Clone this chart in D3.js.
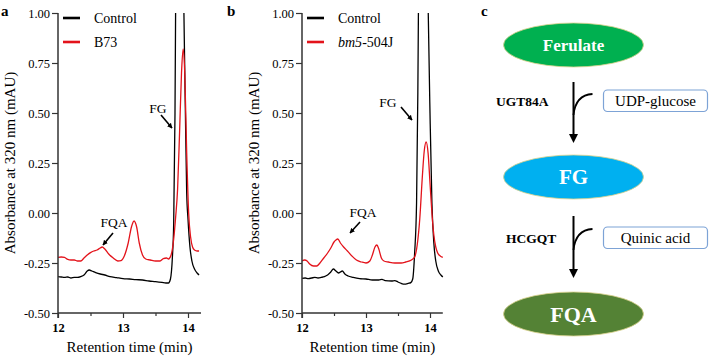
<!DOCTYPE html>
<html><head><meta charset="utf-8">
<script src="https://cdn.jsdelivr.net/npm/d3@7"></script>
<style>
html,body{margin:0;padding:0;background:#fff;}
svg{display:block;}
svg text{font-family:"Liberation Serif","DejaVu Serif",serif !important;}
</style></head>
<body>
<svg id="chart" width="709" height="358"></svg>
<script>
// ---------- data ----------
const yTickValues = [-0.5, -0.25, 0, 0.25, 0.5, 0.75, 1.0];
const yTickLabels = ["-0.50", "-0.25", "0.00", "0.25", "0.50", "0.75", "1.00"];
const xMajorTicks = [12, 13, 14];
const xMinorTicks = [12.5, 13.5];

// Panel a: Control (black)
const timeA_control = [12.00,12.05,12.10,12.15,12.20,12.25,12.30,12.35,12.40,12.45,12.48,12.52,12.58,12.65,12.72,12.80,12.90,13.00,13.10,13.20,13.30,13.40,13.50,13.60,13.66,13.70,13.73,13.76,13.78,13.80,13.81,13.87,13.935,13.96,13.98,14.00,14.03,14.06,14.10,14.14,14.17];
const valA_control  = [-0.318,-0.32,-0.322,-0.32,-0.325,-0.322,-0.322,-0.318,-0.31,-0.29,-0.285,-0.29,-0.298,-0.305,-0.31,-0.318,-0.323,-0.328,-0.33,-0.333,-0.335,-0.34,-0.343,-0.347,-0.35,-0.35,-0.33,-0.22,-0.05,0.5,1.05,3.5,1.05,0.5,0.1,-0.03,-0.17,-0.24,-0.28,-0.3,-0.31];
// Panel a: B73 (red)
const timeA_sample = [12.00,12.05,12.10,12.15,12.20,12.25,12.30,12.35,12.40,12.45,12.50,12.55,12.60,12.65,12.68,12.72,12.78,12.85,12.92,12.97,13.02,13.08,13.13,13.17,13.21,13.25,13.30,13.35,13.42,13.50,13.57,13.62,13.67,13.70,13.74,13.78,13.81,13.84,13.87,13.90,13.925,13.95,13.98,14.01,14.04,14.07,14.10,14.14,14.17];
const valA_sample  = [-0.222,-0.22,-0.222,-0.232,-0.235,-0.235,-0.24,-0.24,-0.225,-0.21,-0.198,-0.19,-0.185,-0.175,-0.17,-0.18,-0.205,-0.225,-0.24,-0.238,-0.215,-0.15,-0.07,-0.04,-0.07,-0.15,-0.21,-0.23,-0.235,-0.24,-0.24,-0.228,-0.225,-0.23,-0.21,-0.13,-0.02,0.12,0.4,0.7,0.82,0.7,0.3,0.0,-0.12,-0.17,-0.185,-0.19,-0.19];

// Panel b: Control (black)
const timeB_control = [12.00,12.05,12.10,12.15,12.20,12.25,12.30,12.35,12.40,12.45,12.49,12.53,12.57,12.60,12.63,12.67,12.72,12.80,12.90,13.00,13.10,13.20,13.25,13.30,13.40,13.45,13.50,13.55,13.60,13.66,13.70,13.73,13.76,13.79,13.81,13.82,13.895,13.97,14.00,14.03,14.06,14.09,14.13,14.17,14.20];
const valB_control  = [-0.327,-0.325,-0.328,-0.325,-0.322,-0.325,-0.322,-0.318,-0.31,-0.295,-0.28,-0.29,-0.3,-0.295,-0.29,-0.305,-0.315,-0.322,-0.328,-0.33,-0.335,-0.335,-0.332,-0.338,-0.34,-0.338,-0.345,-0.352,-0.356,-0.352,-0.348,-0.33,-0.2,0.05,0.6,1.05,3.5,1.05,0.5,0.05,-0.15,-0.24,-0.29,-0.31,-0.32];
// Panel b: bm5-504J (red)
const timeB_sample = [12.00,12.04,12.08,12.12,12.18,12.23,12.28,12.34,12.40,12.45,12.50,12.53,12.56,12.60,12.65,12.71,12.78,12.85,12.93,13.00,13.06,13.10,13.14,13.17,13.20,13.24,13.28,13.35,13.45,13.55,13.62,13.71,13.76,13.80,13.84,13.88,13.91,13.94,13.97,14.00,14.03,14.06,14.09,14.12,14.16,14.20];
const valB_sample  = [-0.24,-0.235,-0.24,-0.255,-0.265,-0.265,-0.25,-0.225,-0.2,-0.175,-0.145,-0.135,-0.13,-0.15,-0.17,-0.19,-0.215,-0.235,-0.245,-0.25,-0.24,-0.21,-0.17,-0.16,-0.18,-0.225,-0.24,-0.245,-0.25,-0.25,-0.245,-0.235,-0.22,-0.16,-0.03,0.18,0.31,0.355,0.3,0.15,0.0,-0.11,-0.17,-0.2,-0.215,-0.222];

const legendA = ["Control", "B73"];
const legendB = ["Control", "bm5-504J"];
const seriesColors = ["#000000", "#e3131b"];

// Pathway (panel c)
const pathwayNodes = ["Ferulate", "FG", "FQA"];
const nodeColors = ["#00b050", "#00b0f0", "#548235"];
const enzymes = ["UGT84A", "HCGQT"];
const cosubstrates = ["UDP-glucose", "Quinic acid"];

// ---------- drawing ----------
const FONT = "'Liberation Serif','DejaVu Serif',serif";
const svg = d3.select("#chart");
const defs = svg.append("defs");
defs.append("marker").attr("id","ah2").attr("viewBox","0 0 10 10").attr("refX",9).attr("refY",5)
  .attr("markerWidth",3.2).attr("markerHeight",3.2).attr("orient","auto")
  .append("path").attr("d","M0,0 L10,5 L0,10 z").attr("fill","#000");

function panel(opts) {
  const x = d3.scaleLinear().domain([12, 14.2]).range([opts.x0, opts.x0 + 2.2 * opts.pxPerMin]);
  const y = d3.scaleLinear().domain([-0.5, 1.0]).range([313, 13]);
  const g = svg.append("g").attr("font-family", FONT);
  const cid = "clip" + opts.id;
  defs.append("clipPath").attr("id", cid).append("rect")
    .attr("x", x(12)).attr("y", y(1.0)).attr("width", x(14.2) - x(12) + 2).attr("height", y(-0.5) - y(1.0));

  const line = d3.line().x(d => x(d[0])).y(d => y(d[1])).curve(d3.curveMonotoneX);
  opts.series.forEach((s, i) => {
    g.append("path").attr("clip-path", `url(#${cid})`)
      .attr("d", line(d3.zip(s.t, s.v)))
      .attr("fill","none").attr("stroke", seriesColors[i]).attr("stroke-width", 1.3)
      .attr("stroke-linejoin","round");
  });

  // axes
  const yAxis = d3.axisLeft(y).tickValues(yTickValues).tickSize(6).tickPadding(2)
    .tickFormat((d, i) => yTickLabels[i]);
  const ya = g.append("g").attr("transform", `translate(${x(12)},0)`).call(yAxis).attr("font-family", FONT);
  ya.select(".domain").attr("d", `M0,${y(1.0)}V${y(-0.5) + 5}`).attr("stroke-width", 1.5).attr("stroke","#333");
  ya.selectAll(".tick line").attr("stroke-width",1.2).attr("stroke","#333");
  ya.selectAll(".tick text").attr("font-size","12.5px").attr("fill","#000");

  const xAxis = d3.axisBottom(x).tickValues(xMajorTicks).tickSize(5).tickPadding(5).tickFormat(d3.format("d"));
  const xa = g.append("g").attr("transform", `translate(0,${y(-0.5)})`).call(xAxis).attr("font-family", FONT);
  xa.select(".domain").attr("d", `M${x(12)},0H${x(14.2)}`).attr("stroke-width",1.5).attr("stroke","#333");
  xa.selectAll(".tick line").attr("stroke-width",1.2).attr("stroke","#333");
  xa.selectAll(".tick text").attr("font-weight","bold").attr("font-size","12.5px").attr("fill","#000");
  const xm = d3.axisBottom(x).tickValues(xMinorTicks).tickSize(3).tickFormat("");
  const xma = g.append("g").attr("transform", `translate(0,${y(-0.5)})`).call(xm);
  xma.select(".domain").remove();
  xma.selectAll(".tick line").attr("stroke-width",1.2).attr("stroke","#333");

  g.append("text").attr("x", (x(12) + x(14.2)) / 2).attr("y", 352).attr("text-anchor","middle")
    .attr("font-size","15px").text("Retention time (min)");
  g.append("text").attr("transform", `translate(${opts.x0 - 43},163) rotate(-90)`).attr("text-anchor","middle")
    .attr("font-size","15px").text("Absorbance at 320 nm (mAU)");

  g.append("text").attr("x", opts.labelX).attr("y", 16).attr("font-weight","bold").attr("font-size","15px").text(opts.label);

  // legend
  opts.legend.forEach((name, i) => {
    const ly = 18 + i * 24;
    g.append("line").attr("x1", x(12) + 5).attr("x2", x(12) + 22).attr("y1", ly).attr("y2", ly)
      .attr("stroke", seriesColors[i]).attr("stroke-width", 2.6);
    const t = g.append("text").attr("x", x(12) + 36).attr("y", ly + 5).attr("font-size","14px");
    if (name.startsWith("bm5")) {
      t.append("tspan").attr("font-style","italic").text("bm5");
      t.append("tspan").text(name.slice(3));
    } else t.text(name);
  });

  // annotations
  opts.notes.forEach(n => {
    g.append("text").attr("x", n.tx).attr("y", n.ty).attr("text-anchor","middle").attr("font-size","13.5px").text(n.text);
    g.append("line").attr("x1", n.a[0]).attr("y1", n.a[1]).attr("x2", n.a[2]).attr("y2", n.a[3])
      .attr("stroke","#000").attr("stroke-width",1.6).attr("marker-end","url(#ah2)");
  });
}

panel({ id: "a", x0: 58, pxPerMin: 65, label: "a", labelX: 1, legend: legendA,
  series: [{t: timeA_control, v: valA_control}, {t: timeA_sample, v: valA_sample}],
  notes: [{text: "FG", tx: 158, ty: 113, a: [161, 115, 172, 128]},
          {text: "FQA", tx: 114, ty: 227, a: [113, 233, 103, 245]}] });
panel({ id: "b", x0: 302, pxPerMin: 64, label: "b", labelX: 227, legend: legendB,
  series: [{t: timeB_control, v: valB_control}, {t: timeB_sample, v: valB_sample}],
  notes: [{text: "FG", tx: 388, ty: 107, a: [401, 107, 412, 120]},
          {text: "FQA", tx: 363, ty: 217, a: [360, 222, 350, 233]}] });

// ---------- panel c: pathway ----------
const pc = svg.append("g").attr("font-family", FONT);
pc.append("text").attr("x", 481).attr("y", 16).attr("font-weight","bold").attr("font-size","15px").text("c");
const cx = 573.5;
const nodeY = [45, 177, 314];
const nodeFont = [17, 21, 22];
pathwayNodes.forEach((name, i) => {
  pc.append("ellipse").attr("cx", cx).attr("cy", nodeY[i]).attr("rx", 70).attr("ry", 22)
    .attr("fill", nodeColors[i]).attr("stroke", "#d8d08a").attr("stroke-width", 0.8);
  pc.append("text").attr("x", cx).attr("y", nodeY[i]).attr("dy","0.35em").attr("text-anchor","middle")
    .attr("fill","#fff").attr("font-weight","bold").attr("font-size", nodeFont[i] + "px").text(name);
});
const steps = [{y1: 82, y2: 143, by: 115, boxY: 90}, {y1: 216, y2: 278, by: 250, boxY: 227}];
steps.forEach((s, i) => {
  pc.append("line").attr("x1", cx).attr("x2", cx).attr("y1", s.y1).attr("y2", s.y2 - 6)
    .attr("stroke","#000").attr("stroke-width", 2);
  pc.append("path").attr("d", `M${cx - 4.5},${s.y2 - 9} L${cx + 4.5},${s.y2 - 9} L${cx},${s.y2} Z`).attr("fill","#000");
  pc.append("path").attr("d", `M${cx},${s.by} Q${cx + 2},${s.by - 20} ${cx + 19},${s.by - 21}`)
    .attr("fill","none").attr("stroke","#000").attr("stroke-width", 1.8);
  pc.append("rect").attr("x", 603.5).attr("y", s.boxY).attr("width", 104).attr("height", 21.5).attr("rx", 4)
    .attr("fill","#fff").attr("stroke","#7da3d6").attr("stroke-width", 1.2);
  pc.append("text").attr("x", 655.5).attr("y", s.boxY + 11).attr("dy","0.35em").attr("text-anchor","middle")
    .attr("font-size","15px").text(cosubstrates[i]);
  pc.append("text").attr("x", i === 0 ? 496 : 506).attr("y", s.boxY + 15.5).attr("font-weight","bold")
    .attr("font-size","13.5px").text(enzymes[i]);
});
</script>
</body></html>
